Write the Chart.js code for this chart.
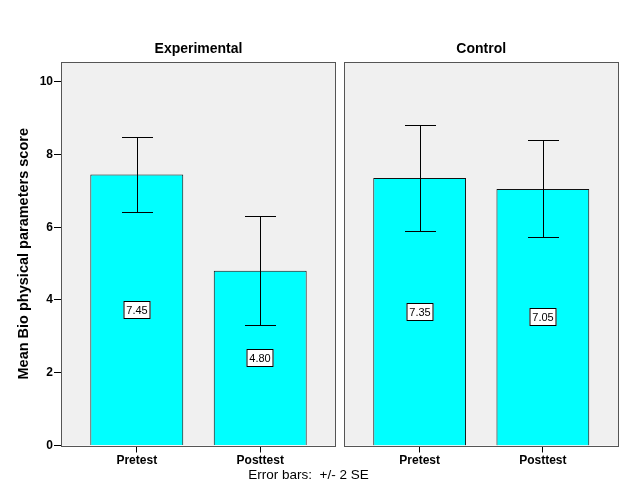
<!DOCTYPE html>
<html>
<head>
<meta charset="utf-8">
<script src="https://cdn.jsdelivr.net/npm/chart.js@4.4.1/dist/chart.umd.min.js"></script>
<style>
body{margin:0;background:#fff;width:626px;height:501px;overflow:hidden;position:relative;font-family:"Liberation Sans",Arial,sans-serif}
#w1{position:absolute;left:0;top:0;width:340px;height:480px}
#w2{position:absolute;left:340px;top:0;width:286px;height:480px}
#note{position:absolute;left:0;width:617px;top:467px;text-align:center;font-size:13.5px;white-space:pre;color:#000}
</style>
</head>
<body>
<div id="w1"><canvas id="c1"></canvas></div>
<div id="w2"><canvas id="c2"></canvas></div>
<div id="note">Error bars:  +/- 2 SE</div>
<script>
// data
const tests = ['Pretest', 'Posttest'];
const expMean = [7.45, 4.80];
const expLow = [6.43, 3.31];
const expHigh = [8.48, 6.30];
const ctlMean = [7.35, 7.05];
const ctlLow = [5.89, 5.72];
const ctlHigh = [8.82, 8.40];
const yTicks = [0, 2, 4, 6, 8, 10];
const yMax = 10.54;

Chart.defaults.font.family = '"Liberation Sans", Arial, sans-serif';
Chart.defaults.color = '#000';

// grey panel, error bars, value boxes, frame
const panel = {
  id: 'panel',
  beforeDraw(chart) {
    const a = chart.chartArea, ctx = chart.ctx;
    ctx.save();
    ctx.fillStyle = '#f0f0f0';
    ctx.fillRect(a.left, a.top, a.right - a.left, a.bottom - a.top);
    ctx.restore();
  },
  afterDatasetsDraw(chart) {
    const ctx = chart.ctx, a = chart.chartArea;
    const ds = chart.data.datasets[0];
    const xs = chart.scales.x, ys = chart.scales.y;
    ctx.save();
    ctx.strokeStyle = '#000';
    ctx.lineWidth = 1;
    ds.data.forEach((p, i) => {
      const x = Math.round(xs.getPixelForValue(p.x)) + 0.5;
      const yl = Math.round(ys.getPixelForValue(ds.errLow[i])) + 0.5;
      const yh = Math.round(ys.getPixelForValue(ds.errHigh[i])) + 0.5;
      ctx.beginPath();
      ctx.moveTo(x, yl); ctx.lineTo(x, yh);
      ctx.moveTo(x - 15.5, yl); ctx.lineTo(x + 15.5, yl);
      ctx.moveTo(x - 15.5, yh); ctx.lineTo(x + 15.5, yh);
      ctx.stroke();
    });
    // value labels in the middle of each bar
    ctx.font = '11px "Liberation Sans", Arial, sans-serif';
    ctx.textAlign = 'center';
    ctx.textBaseline = 'middle';
    ds.data.forEach(p => {
      const x = Math.round(xs.getPixelForValue(p.x));
      const y = Math.round(ys.getPixelForValue(p.y / 2));
      const txt = p.y.toFixed(2);
      const w = Math.round(ctx.measureText(txt).width) + 6, h = 18;
      ctx.fillStyle = '#fff';
      ctx.fillRect(x - w / 2, y - h / 2, w, h);
      ctx.strokeStyle = '#000';
      ctx.strokeRect(x - w / 2 + 0.5, y - h / 2 + 0.5, w - 1, h - 1);
      ctx.fillStyle = '#000';
      ctx.fillText(txt, x, y + 1);
    });
    // frame
    ctx.strokeStyle = '#555';
    ctx.strokeRect(Math.round(a.left) + 0.5, Math.round(a.top) + 0.5,
      Math.round(a.right - a.left) - 1, Math.round(a.bottom - a.top));
    ctx.restore();
  }
};

function makeChart(id, title, mean, low, high, showY, padL, padR) {
  return new Chart(document.getElementById(id), {
    type: 'bar',
    data: {
      datasets: [{
        data: mean.map((v, i) => ({ x: i, y: v })),
        backgroundColor: '#00ffff',
        borderColor: '#111',
        borderWidth: 1,
        barPercentage: 0.753,
        categoryPercentage: 1,
        errLow: low,
        errHigh: high
      }]
    },
    options: {
      responsive: true,
      maintainAspectRatio: false,
      animation: false,
      layout: { padding: { left: padL, right: padR, top: 0, bottom: 0 } },
      plugins: {
        legend: { display: false },
        tooltip: { enabled: false },
        title: {
          display: true, text: title, color: '#000', fullSize: false,
          font: { size: 14, weight: 'bold' },
          padding: { top: 41, bottom: 4.2 }
        }
      },
      scales: {
        x: {
          type: 'linear', min: -0.614, max: 1.614, offset: false,
          grid: { offset: false, drawOnChartArea: false, tickLength: 7, color: '#000' },
          border: { display: false },
          ticks: { font: { size: 12, weight: 'bold' }, color: '#000', padding: 1,
            maxRotation: 0, callback: v => tests[v] },
          afterBuildTicks: s => { s.ticks = tests.map((t, i) => ({ value: i })); },
          afterFit: s => { s.height = 34.5; }
        },
        y: {
          display: showY, min: 0, max: yMax,
          grid: { drawOnChartArea: false, tickLength: 7, color: '#000' },
          border: { display: false },
          ticks: { font: { size: 12, weight: 'bold' }, color: '#000', padding: 1 },
          afterBuildTicks: s => { s.ticks = yTicks.map(v => ({ value: v })); },
          afterFit: s => { s.width = showY ? 61 : 0; },
          title: {
            display: true, text: 'Mean Bio physical parameters score', color: '#000',
            font: { size: 14.5, weight: 'bold' }, padding: { top: 15, bottom: 0 }
          }
        }
      }
    },
    plugins: [panel]
  });
}

makeChart('c1', 'Experimental', expMean, expLow, expHigh, true, 0, 4);
makeChart('c2', 'Control', ctlMean, ctlLow, ctlHigh, false, 4, 7.5);
</script>
</body>
</html>
